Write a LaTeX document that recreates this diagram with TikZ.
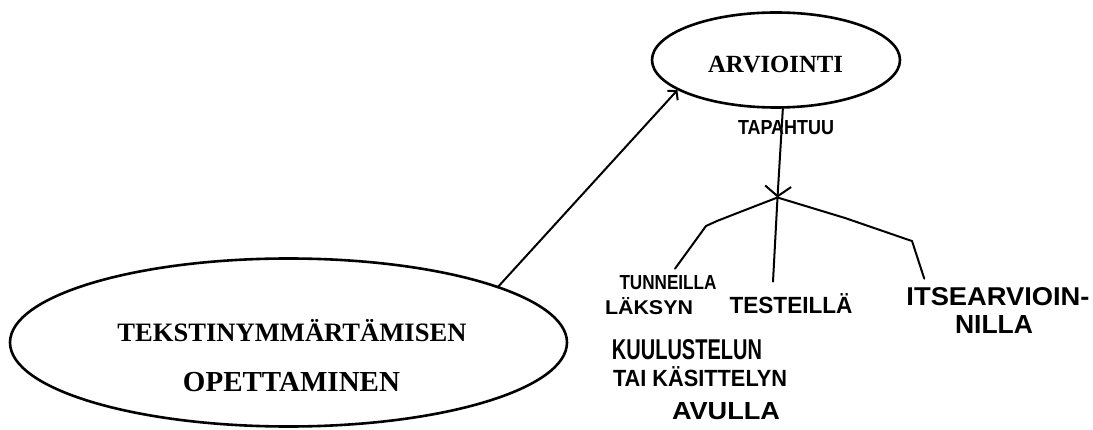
\documentclass[tikz,border=0pt]{standalone}
\usepackage{fontspec}
\usepackage{graphicx}
\setmainfont{Liberation Serif}
\newfontfamily\hand{Liberation Sans}
\usetikzlibrary{shapes.geometric,arrows.meta}
\tikzset{
  oval/.style={ellipse, draw, line width=2.6pt, inner sep=0pt},
  printed/.style={inner sep=0pt, font=\bfseries},
  handtext/.style={inner sep=0pt, font=\hand\bfseries},
  link/.style={line width=2pt, line cap=round, line join=round},
}
\newcommand{\hw}[3]{\resizebox{#1pt}{#2pt}{#3}}
\begin{document}
\begin{tikzpicture}[x=1pt,y=-1pt]
\useasboundingbox (0,0) rectangle (1093,430);
% ellipses
\node[oval, minimum width=248pt, minimum height=95pt] (arv) at (776,60) {};
\node[printed] (arvtext) at (775.5,65) {\resizebox{135pt}{!}{ARVIOINTI}};
\node[oval, minimum width=557pt, minimum height=168pt] (teach) at (288.5,342.5) {};
\node[printed] (teach1) at (292,331) {\resizebox{349pt}{!}{TEKSTINYMMÄRTÄMISEN}};
\node[printed] (teach2) at (291.5,382) {\resizebox{217pt}{!}{OPETTAMINEN}};
% handwritten labels
\node[handtext] (tap) at (786,128) {\hw{96}{14}{TAPAHTUU}};
\node[handtext] (tun1) at (668,283) {\hw{97}{14}{TUNNEILLA}};
\node[handtext] (tun2) at (649,306) {\hw{88}{17}{LÄKSYN}};
\node[handtext] (tes) at (791,304) {\hw{123}{20}{TESTEILLÄ}};
\node[handtext] (its1) at (998,297) {\hw{183}{18}{ITSEARVIOIN-}};
\node[handtext] (its2) at (994,324) {\hw{78}{18}{NILLA}};
\node[handtext] (kuu) at (687,350) {\hw{150}{20}{KUULUSTELUN}};
\node[handtext] (tai) at (700,377) {\hw{174}{20}{TAI KÄSITTELYN}};
\node[handtext] (avu) at (726,411) {\hw{108}{17}{AVULLA}};
% connectors
\coordinate (br) at (777.5,197.5);
\draw[link, -{Straight Barb[length=6pt,width=14pt,line width=2pt]}] (teach.15.5) -- (arv.197.5);
\draw[link, -{Straight Barb[length=10pt,width=26pt,line width=2pt]}] (arv.278) -- (br);
\draw[link] (br) -- (740,212) -- (717,221) -- (706,226) -- ([xshift=7pt,yshift=7pt]tun1.north);
\draw[link] (br) -- ([xshift=-18pt,yshift=12pt]tes.north);
\draw[link] (br) -- (845,218) -- (906,239) -- (912,241) -- ([xshift=18pt,yshift=9pt]its1.north west);
\end{tikzpicture}
\end{document}
